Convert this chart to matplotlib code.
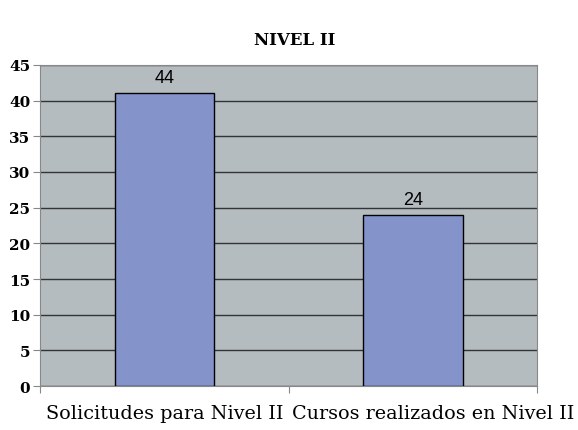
import matplotlib.pyplot as plt
import matplotlib.transforms as mtransforms
import numpy as np

categorias = ["Solicitudes para Nivel II", "Cursos realizados en Nivel II"]
valores = [41.1, 24]
etiquetas = ["44", "24"]
yticks = [0, 5, 10, 15, 20, 25, 30, 35, 40, 45]

fig = plt.figure(figsize=(5.78, 4.31), dpi=100)
ax = fig.add_axes([0.0692, 0.102, 0.86, 0.745])
ax.set_facecolor("#b4bcc0")

x = np.arange(len(categorias))
ax.bar(x, valores, width=0.4, color="#8494ca", edgecolor="black", linewidth=1, zorder=3)
for xi, v, t in zip(x, valores, etiquetas):
    ax.text(xi, v + 1.0, t, ha="center", va="bottom", fontsize=13,
            family="Liberation Sans", zorder=4)

ax.set_xlim(-0.5, 1.5)
ax.set_ylim(0, 45)
ax.set_yticks(yticks)
ax.set_yticklabels([str(t) for t in yticks], family="DejaVu Serif",
                   fontsize=11, fontweight="bold")
ax.yaxis.grid(True, color="#333333", linewidth=1, zorder=1)

# ticks del eje x en los limites de categoria
ax.set_xticks([-0.5, 0.5, 1.5])
ax.set_xticklabels([])
ax.set_xticks(x, minor=True)
ax.set_xticklabels(categorias, minor=True, family="DejaVu Serif", fontsize=13.8)
ax.tick_params(axis="x", which="minor", length=0, pad=13)
ax.tick_params(axis="x", which="major", length=5, color="#888888")
ax.tick_params(axis="y", length=5, color="#888888", pad=2)

# la segunda etiqueta va algo desplazada a la derecha como en el original
lbl = ax.get_xticklabels(minor=True)[1]
lbl.set_transform(lbl.get_transform() + mtransforms.ScaledTranslation(0.2, 0, fig.dpi_scale_trans))

for s in ["top", "right", "left", "bottom"]:
    ax.spines[s].set_color("#888888")

fig.text(0.51, 0.905, "NIVEL II", ha="center", va="center",
         family="DejaVu Serif", fontsize=12, fontweight="semibold")

fig.savefig("out.png", dpi=100)
